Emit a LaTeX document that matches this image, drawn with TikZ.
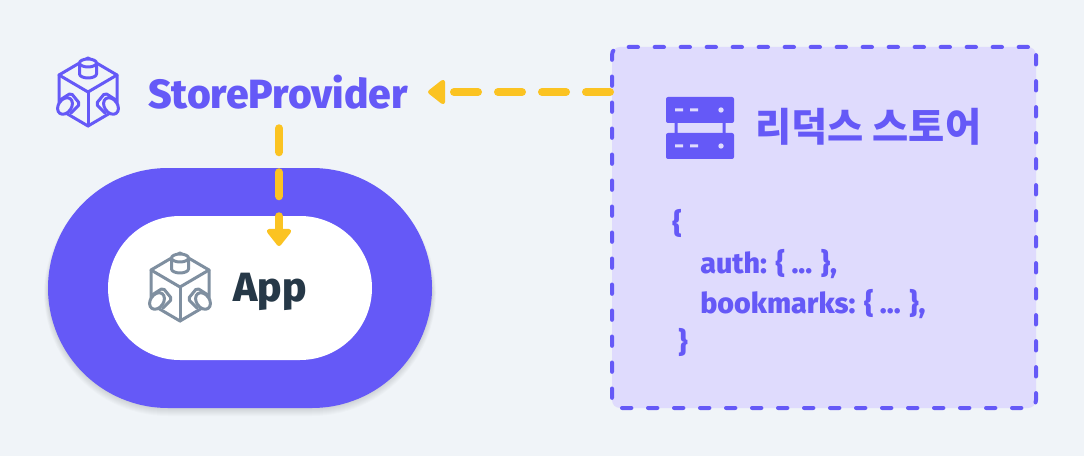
\documentclass[tikz,border=0pt]{standalone}
\usepackage{fontspec}
\setmainfont{Fira Sans}[BoldFont=Fira Sans ExtraBold]
\newfontfamily\krfont{Noto Sans CJK KR}
\usetikzlibrary{arrows.meta}
\definecolor{pagebg}{HTML}{F0F4F8}
\definecolor{brandblue}{HTML}{6559F7}
\definecolor{boxfill}{HTML}{DFDBFD}
\definecolor{flowyellow}{HTML}{FBC322}
\definecolor{inkdark}{HTML}{263847}
\definecolor{icongray}{HTML}{7F8FA0}

\begin{document}
\begin{tikzpicture}[
        x=0.75pt, y=-0.75pt, % Unidades en pixeles de la referencia
        flow/.style={flowyellow, line width=6pt, line cap=round, dash pattern=on 18pt off 15pt,
            -{Triangle[length=14pt, width=21pt, round]}}, % Conectores punteados
        pill/.style={inner sep=0pt, fill=#1}, % Capsulas de App
        title/.style={font=\bfseries\fontsize{30.6}{36}\selectfont, inner ysep=0pt},
        codeline/.style={anchor=base west, inner sep=0pt, brandblue, font=\bfseries\fontsize{21.5}{25}\selectfont},
        pics/cubeicon/.style 2 args={code={
            \begin{scope}[draw=#1, line width=2.25pt, line join=round, line cap=round]
                % Cubo
                \draw (-29,-17) -- (0,-34) -- (29,-17) -- (0,0) -- cycle;
                \draw (-29,-17) -- (-29,17) -- (0,34) -- (29,17) -- (29,-17);
                \draw (0,0) -- (0,34);
                % Cilindro superior
                \filldraw[fill=#2] (-8.5,-29) -- (-8.5,-18) arc[start angle=180, end angle=0, x radius=8.5, y radius=4] -- (8.5,-29);
                \filldraw[fill=#2] (0,-29) ellipse[x radius=8.5, y radius=4];
                % Cilindros laterales
                \filldraw[fill=#2, rounded corners=1.5pt] (-28,8) -- (-17,1) -- (-8,12) -- (-17,21);
                \filldraw[fill=#2] (-23,14) ellipse[x radius=9, y radius=6.5, rotate=55];
                \filldraw[fill=#2, rounded corners=1.5pt] (28,8) -- (17,1) -- (8,12) -- (17,21);
                \filldraw[fill=#2] (23,14) ellipse[x radius=9, y radius=6.5, rotate=-55];
            \end{scope}
        }},
        pics/rackbox/.style={code={
            \fill[brandblue, rounded corners=1.5pt] (-34,-13) rectangle (34,13);
            \fill[boxfill] (-25,-1.5) rectangle (-17,1.5) (-10,-1.5) rectangle (-2,1.5);
            \fill[boxfill] (21,0) circle (2.7);
        }}
    ]
        % --- Fondo ---
        \fill[pagebg] (0,0) rectangle (1084,456);
        \useasboundingbox (0,0) rectangle (1084,456);

        % --- Sombra y capsula exterior ---
        \foreach \s in {1,...,8}
            \fill[black, opacity=0.014, rounded corners=90pt+\s*0.4pt] (48-\s*0.5,178-\s) rectangle (432+\s*0.5,408+\s);
        \node[pill=brandblue, rounded corners=90pt, minimum width=288pt, minimum height=180pt] (outerpill) at (240,288) {};
        \node[pill=white, rounded corners=54pt, minimum width=198pt, minimum height=108pt] (innerpill) at (240,288) {};

        % --- Caja de la tienda ---
        \node[draw=brandblue, fill=boxfill, line width=3pt, line cap=round, rounded corners=6pt,
            dash pattern=on 7pt off 12.5pt, inner sep=0pt, minimum width=318pt, minimum height=270.75pt] (storebox) at (824,227.5) {};

        % --- Textos ---
        \node[title, brandblue, inner xsep=15pt, minimum height=54pt] (provider) at (278,92) {StoreProvider};
        \node[title, inkdark, minimum height=66pt] (applabel) at (270,292) {App};
        \node[anchor=west, inner sep=0pt, brandblue, font=\krfont\bfseries\fontsize{29.5}{34}\selectfont] (storetitle) at (755,127) {리덕스 스토어};
        \node[codeline] (codeopen) at (672,233) {\{};
        \node[codeline] (codeauth) at (700,273) {auth: \{ ... \},};
        \node[codeline] (codemarks) at (700,313) {bookmarks: \{ ... \},};
        \node[codeline] (codeclose) at (678,352) {\}};

        % --- Iconos ---
        \pic (providericon) at (88,92) {cubeicon={brandblue}{pagebg}};
        \pic (appicon) at (180,287) {cubeicon={icongray}{white}};
        \fill[brandblue] (676-1.5,120) rectangle (676+1.5,135) (724-1.5,120) rectangle (724+1.5,135);
        \pic (rackupper) at (700,110) {rackbox};
        \pic (racklower) at (700,146) {rackbox};

        % --- Conectores ---
        \draw[flow] (storebox.west |- provider) -- (provider.east);
        \draw[flow] (provider.south) ++(1,0) -- (279,246);
    \end{tikzpicture}
\end{document}
